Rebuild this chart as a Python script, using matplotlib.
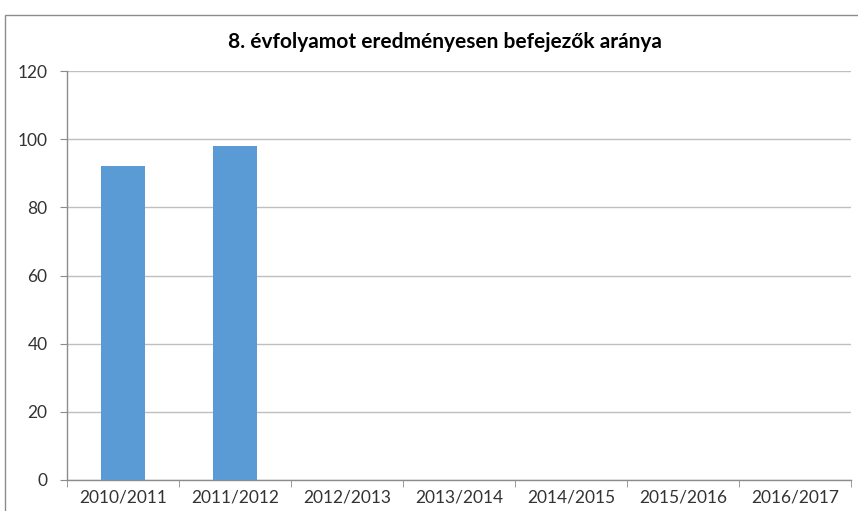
import matplotlib
matplotlib.use("Agg")
import matplotlib.pyplot as plt
from matplotlib.patches import Rectangle
import numpy as np

categories = ["2010/2011", "2011/2012", "2012/2013", "2013/2014", "2014/2015", "2015/2016", "2016/2017"]
values = [92, 98, 0, 0, 0, 0, 0]
yticks = [0, 20, 40, 60, 80, 100, 120]
title = "8. évfolyamot eredményesen befejezők aránya"

plt.rcParams['font.family'] = ['Lato', 'DejaVu Sans']

fig = plt.figure(figsize=(8.58, 5.11), dpi=100)
W, H = 858, 511
ax = fig.add_axes([67 / W, 1 - 480 / H, (851 - 67) / W, (480 - 71) / H])

x = np.arange(len(categories))
ax.bar(x, values, width=0.4, color="#5B9BD5", zorder=3)

ax.set_xlim(-0.5, len(categories) - 0.5)
ax.set_ylim(0, 120)
ax.set_yticks(yticks)
ax.set_yticklabels([str(v) for v in yticks], fontsize=12.5, color="#333333")
ax.set_xticks(x)
ax.set_xticklabels(categories, fontsize=12.5, color="#333333")
ax.set_xticks(np.arange(len(categories) + 1) - 0.5, minor=True)
ax.tick_params(axis="x", which="major", length=0, pad=7)
ax.tick_params(axis="x", which="minor", length=5, color="#8C8C8C", direction="out")
ax.tick_params(axis="y", length=5, color="#8C8C8C", direction="out", pad=9)

ax.grid(axis="y", color="#BFBFBF", linewidth=1, zorder=0)
for s in ["top", "right"]:
    ax.spines[s].set_visible(False)
for s in ["left", "bottom"]:
    ax.spines[s].set_color("#8C8C8C")
    ax.spines[s].set_linewidth(1)

fig.text(445 / W, 1 - 42 / H, title, ha="center", va="center", fontsize=15, fontweight="bold", color="#000000")

fig.patches.append(Rectangle((5 / W, -0.1), 1.2, 1 - 15 / H + 0.1, transform=fig.transFigure,
                             fill=False, edgecolor="#8C8C8C", linewidth=1))

fig.savefig("out.png", dpi=100)
